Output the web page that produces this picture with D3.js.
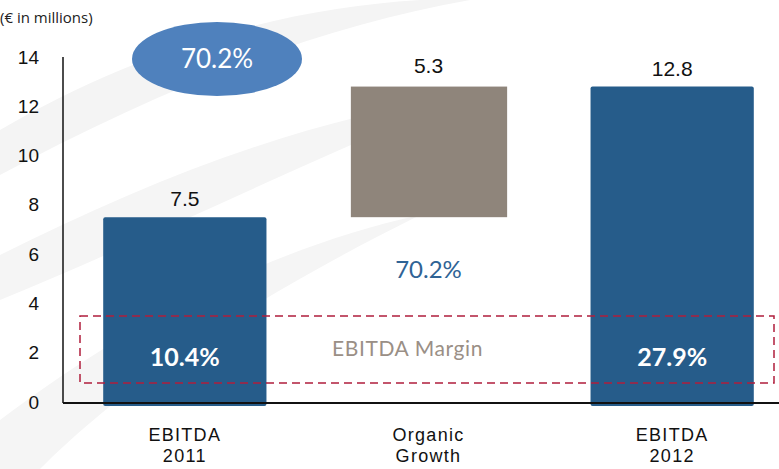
<!DOCTYPE html>
<html>
<head>
<meta charset="utf-8">
<script src="https://cdn.jsdelivr.net/npm/d3@7"></script>
<style>
  body { margin: 0; background: #fff; }
  svg { display: block; }
</style>
</head>
<body>
<div id="chart"></div>
<script>
var categories = ["EBITDA\n2011", "Organic\nGrowth", "EBITDA\n2012"];
var barStart = [0, 7.5, 0];
var barEnd = [7.5, 12.8, 12.8];
var valueLabels = ["7.5", "5.3", "12.8"];
var marginLabels = ["10.4%", "", "27.9%"];
var yTicks = [0, 2, 4, 6, 8, 10, 12, 14];
var growthLabel = "70.2%";

var width = 779, height = 469;

var svg = d3.select("#chart").append("svg")
  .attr("width", width)
  .attr("height", height);

// faint background swooshes
svg.append("path")
  .attr("d", "M0,130 C120,60 260,10 420,0 L470,0 C300,30 140,100 0,175 Z")
  .attr("fill", "#f4f4f4");
svg.append("path")
  .attr("d", "M0,255 C150,180 300,120 470,95 C330,150 170,230 0,300 Z")
  .attr("fill", "#f5f5f5");
svg.append("path")
  .attr("d", "M0,420 C120,330 260,250 420,215 C290,280 150,360 40,469 L0,469 Z")
  .attr("fill", "#f5f5f5");

var x = d3.scaleBand()
  .domain(categories)
  .range([63, 794])
  .paddingInner(0.33)
  .paddingOuter(0.165);

var y = d3.scaleLinear()
  .domain([0, 14])
  .range([402, 57]);

var colors = ["#265c8a", "#8f857b", "#265c8a"];

// bars
svg.selectAll(".bar")
  .data(categories)
  .enter().append("rect")
  .attr("class", "bar")
  .attr("x", (d, i) => x(d) + (i === 1 ? 4 : 0))
  .attr("width", (d, i) => x.bandwidth() - (i === 1 ? 7 : 0))
  .attr("y", (d, i) => y(barEnd[i]))
  .attr("height", (d, i) => y(barStart[i]) - y(barEnd[i]) + (barStart[i] === 0 ? 4 : 0))
  .attr("rx", (d, i) => i === 1 ? 0 : 2)
  .attr("fill", (d, i) => colors[i]);

// value labels
svg.selectAll(".val")
  .data(categories)
  .enter().append("text")
  .attr("class", "val")
  .attr("x", d => x(d) + x.bandwidth() / 2)
  .attr("y", (d, i) => y(barEnd[i]) - (i === 1 ? 14 : 11))
  .attr("text-anchor", "middle")
  .style("font-family", "Liberation Sans, Arial, sans-serif")
  .style("font-size", "21px")
  .attr("fill", "#111")
  .text((d, i) => valueLabels[i]);

// y axis
var yAxis = d3.axisLeft(y).tickValues(yTicks).tickSize(0).tickPadding(24);
var gy = svg.append("g")
  .attr("transform", "translate(63,0)")
  .call(yAxis);
gy.select(".domain").attr("stroke", "#111").attr("stroke-width", 1.5)
  .attr("d", `M0,${y(14)}V${y(0) + 1}`);
gy.selectAll("text")
  .style("font-family", "Liberation Sans, Arial, sans-serif")
  .style("font-size", "19px")
  .attr("fill", "#111");

// x baseline
svg.append("line")
  .attr("x1", 63).attr("x2", width)
  .attr("y1", y(0) + 1).attr("y2", y(0) + 1)
  .attr("stroke", "#111").attr("stroke-width", 2);

// x labels
var xl = svg.selectAll(".xl")
  .data(categories)
  .enter().append("text")
  .attr("class", "xl")
  .attr("text-anchor", "middle")
  .style("font-family", "Liberation Sans, Arial, sans-serif")
  .style("font-size", "18px")
  .style("letter-spacing", "1.3px")
  .attr("fill", "#111");
xl.each(function(d) {
  var t = d3.select(this);
  d.split("\n").forEach((line, k) => {
    t.append("tspan")
      .attr("x", x(d) + x.bandwidth() / 2)
      .attr("y", 441 + k * 21)
      .text(line);
  });
});

// EBITDA margin dashed box
svg.append("rect")
  .attr("x", 80).attr("y", 316)
  .attr("width", 694).attr("height", 67)
  .attr("fill", "none")
  .attr("stroke", "#b01e3c")
  .attr("stroke-width", 1.5)
  .attr("stroke-dasharray", "8,5");

svg.append("text")
  .attr("x", x(categories[1]) + x.bandwidth() / 2 - 21)
  .attr("y", 356)
  .attr("text-anchor", "middle")
  .style("font-family", "Lato, Open Sans, sans-serif")
  .style("font-size", "21px")
  .style("letter-spacing", "0.6px")
  .attr("fill", "#9a8f86")
  .text("EBITDA  Margin");

svg.selectAll(".margin")
  .data(categories)
  .enter().append("text")
  .attr("class", "margin")
  .attr("x", d => x(d) + x.bandwidth() / 2)
  .attr("y", 366)
  .attr("text-anchor", "middle")
  .style("font-family", "Lato, Open Sans, sans-serif")
  .style("font-size", "25px")
  .style("font-weight", "bold")
  .attr("fill", "#fff")
  .text((d, i) => marginLabels[i]);

// growth label
svg.append("text")
  .attr("x", x(categories[1]) + x.bandwidth() / 2)
  .attr("y", 278)
  .attr("text-anchor", "middle")
  .style("font-family", "Lato, Open Sans, sans-serif")
  .style("font-size", "24px")
  .attr("fill", "#2f6395")
  .text(growthLabel);

// ellipse
svg.append("ellipse")
  .attr("cx", 217).attr("cy", 59)
  .attr("rx", 85).attr("ry", 37)
  .attr("fill", "#4f81bd");
svg.append("text")
  .attr("x", 217).attr("y", 68)
  .attr("text-anchor", "middle")
  .style("font-family", "Lato, Open Sans, sans-serif")
  .style("font-size", "26px")
  .attr("fill", "#fff")
  .text(growthLabel);

// units
svg.append("text")
  .attr("x", 0).attr("y", 23)
  .style("font-family", "Open Sans, sans-serif")
  .style("font-size", "15px")
  .attr("fill", "#222")
  .text("(€ in millions)");
</script>
</body>
</html>
